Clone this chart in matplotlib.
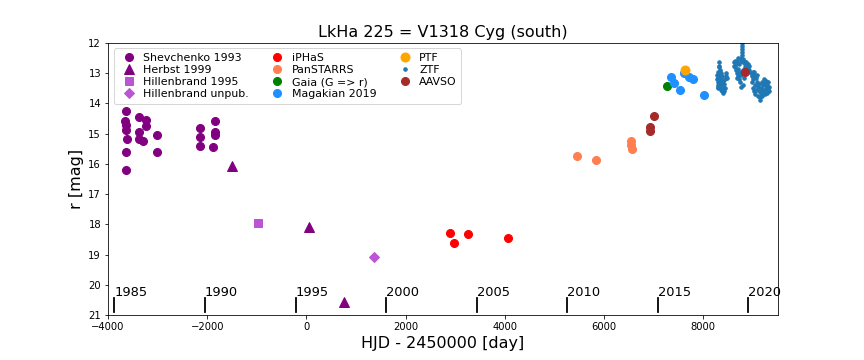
import matplotlib
matplotlib.use("Agg")
import matplotlib.pyplot as plt

# ---------------- data ----------------
shev_x = [-3630, -3650, -3630, -3630, -3620, -3630, -3630, -3367, -3232, -3232, -3367, -3367, -3300,
          -3016, -3016, -2150, -2150, -2150, -1846, -1846, -1846, -1880]
shev_y = [14.27, 14.6, 14.72, 14.88, 15.19, 15.62, 16.2, 14.44, 14.55, 14.75, 14.94, 15.19, 15.24,
          15.05, 15.62, 14.83, 15.1, 15.41, 14.58, 14.96, 15.05, 15.45]

herbst_x = [-1500, 61, 750]
herbst_y = [16.07, 18.09, 20.58]

hill95_x = [-974]
hill95_y = [17.96]

hillun_x = [1359]
hillun_y = [19.09]

iphas_x = [2887, 2968, 3252, 4057]
iphas_y = [18.28, 18.63, 18.33, 18.47]

ps_x = [5456, 5842, 6552, 6552, 6560]
ps_y = [15.74, 15.87, 15.25, 15.38, 15.51]

gaia_x = [7262]
gaia_y = [13.42]

mag_x = [7350, 7418, 7531, 7620, 7722, 7789, 8012]
mag_y = [13.12, 13.33, 13.56, 13.0, 13.12, 13.2, 13.72]

ptf_x = [7640]
ptf_y = [12.9]

ztf_x = [8280, 8285, 8290, 8295, 8300, 8305, 8310, 8315, 8320, 8322, 8325, 8330, 8335, 8340, 8345,
         8350, 8355, 8360, 8365, 8370, 8375, 8380, 8385, 8390, 8395, 8400, 8405, 8410, 8420, 8430,
         8440, 8450, 8460, 8470, 8300, 8310, 8290, 8340, 8350,
         8620, 8630, 8640, 8650, 8660, 8670, 8680, 8690, 8700, 8710, 8720, 8730, 8740, 8750, 8760,
         8770, 8775, 8780, 8783, 8785, 8790, 8795, 8800, 8805, 8810, 8820, 8830, 8840, 8850, 8860,
         8870, 8880, 8890, 8900, 8910, 8920, 8930, 8690, 8710, 8760, 8770,
         8970, 8980, 8990, 9000, 9010, 9020, 9030, 9040, 9050, 9060, 9070, 9080, 9090, 9100, 9110,
         9120, 9130, 9140, 9150, 9160, 9170, 9180, 9190, 9200, 9210, 9220, 9230, 9240, 9250, 9260,
         9270, 9280, 9290, 9300, 9310, 9320, 9330, 9000, 9020, 9040]
ztf_y = [13.05, 13.2, 13.3, 12.95, 13.1, 13.4, 12.8, 12.65, 12.75, 13.0, 13.15, 12.9, 13.25, 13.35, 13.05,
         13.45, 13.2, 13.55, 13.3, 13.6, 13.1, 13.4, 13.5, 13.65, 13.25, 13.45, 13.55, 13.35, 13.6, 13.5,
         13.2, 13.1, 13.0, 13.15, 13.5, 13.35, 13.45, 12.95, 13.0,
         12.75, 12.65, 12.6, 12.8, 12.7, 12.9, 13.0, 12.6, 12.85, 13.1, 12.7, 13.2, 12.95, 13.3, 13.05,
         12.5, 12.3, 12.1, 12.0, 12.2, 12.4, 12.55, 13.4, 12.9, 12.65, 13.15, 12.6, 12.8, 12.7, 12.65,
         12.9, 12.75, 12.85, 12.7, 12.8, 12.9, 12.75, 13.15, 12.5, 12.6, 13.45,
         13.0, 13.1, 13.3, 13.5, 13.2, 13.6, 12.95, 13.4, 13.7, 13.15, 13.55, 13.3, 13.05, 13.75, 13.45,
         13.6, 13.35, 13.8, 13.9, 13.5, 13.65, 13.3, 13.75, 13.55, 13.4, 13.2, 13.6, 13.35, 13.7, 13.5,
         13.25, 13.65, 13.4, 13.55, 13.3, 13.6, 13.45, 12.95, 13.05, 13.1]

aavso_x = [6998, 6937, 6937, 8850]
aavso_y = [14.41, 14.78, 14.91, 12.97]

years = [1985, 1990, 1995, 2000, 2005, 2010, 2015, 2020]
year_hjd = [-3870, -2044, -218, 1608, 3434, 5260, 7086, 8912]

# ---------------- plot ----------------
fig = plt.figure(figsize=(12, 5), dpi=72)
ax = fig.add_axes([0.125, 0.125, 0.775, 0.756])

ax.plot(shev_x, shev_y, 'o', color='purple', ms=8, label='Shevchenko 1993')
ax.plot(herbst_x, herbst_y, '^', color='purple', ms=10, label='Herbst 1999')
ax.plot(hill95_x, hill95_y, 's', color='mediumorchid', ms=8, label='Hillenbrand 1995')
ax.plot(hillun_x, hillun_y, 'D', color='mediumorchid', ms=7, label='Hillenbrand unpub.')
ax.plot(iphas_x, iphas_y, 'o', color='red', ms=8, label='iPHaS')
ax.plot(ps_x, ps_y, 'o', color='coral', ms=8, label='PanSTARRS')
ax.plot(gaia_x, gaia_y, 'o', color='green', ms=8, label='Gaia (G => r)')
ax.plot(mag_x, mag_y, 'o', color='dodgerblue', ms=8, label='Magakian 2019')
ax.plot(ptf_x, ptf_y, 'o', color='orange', ms=9, label='PTF')
ax.plot(ztf_x, ztf_y, 'o', color='tab:blue', ms=3.5, label='ZTF')
ax.plot(aavso_x, aavso_y, 'o', color='brown', ms=8, label='AAVSO')

for yr, t in zip(years, year_hjd):
    ax.plot([t, t], [20.45, 20.9], color='black', lw=1.8)
    ax.text(t, 20.38, str(yr), fontsize=13, ha='left', va='baseline')

ax.set_xlim(-4000, 9500)
ax.set_ylim(21, 12)
ax.set_title('LkHa 225 = V1318 Cyg (south)', fontsize=16)
ax.set_xlabel('HJD - 2450000 [day]', fontsize=16)
ax.set_ylabel('r [mag]', fontsize=16)
ax.legend(loc='upper left', ncol=3, fontsize=11, labelspacing=0.2, markerscale=1.0,
          handletextpad=0.3, columnspacing=1.6)

fig.savefig('out.png', dpi=72)
